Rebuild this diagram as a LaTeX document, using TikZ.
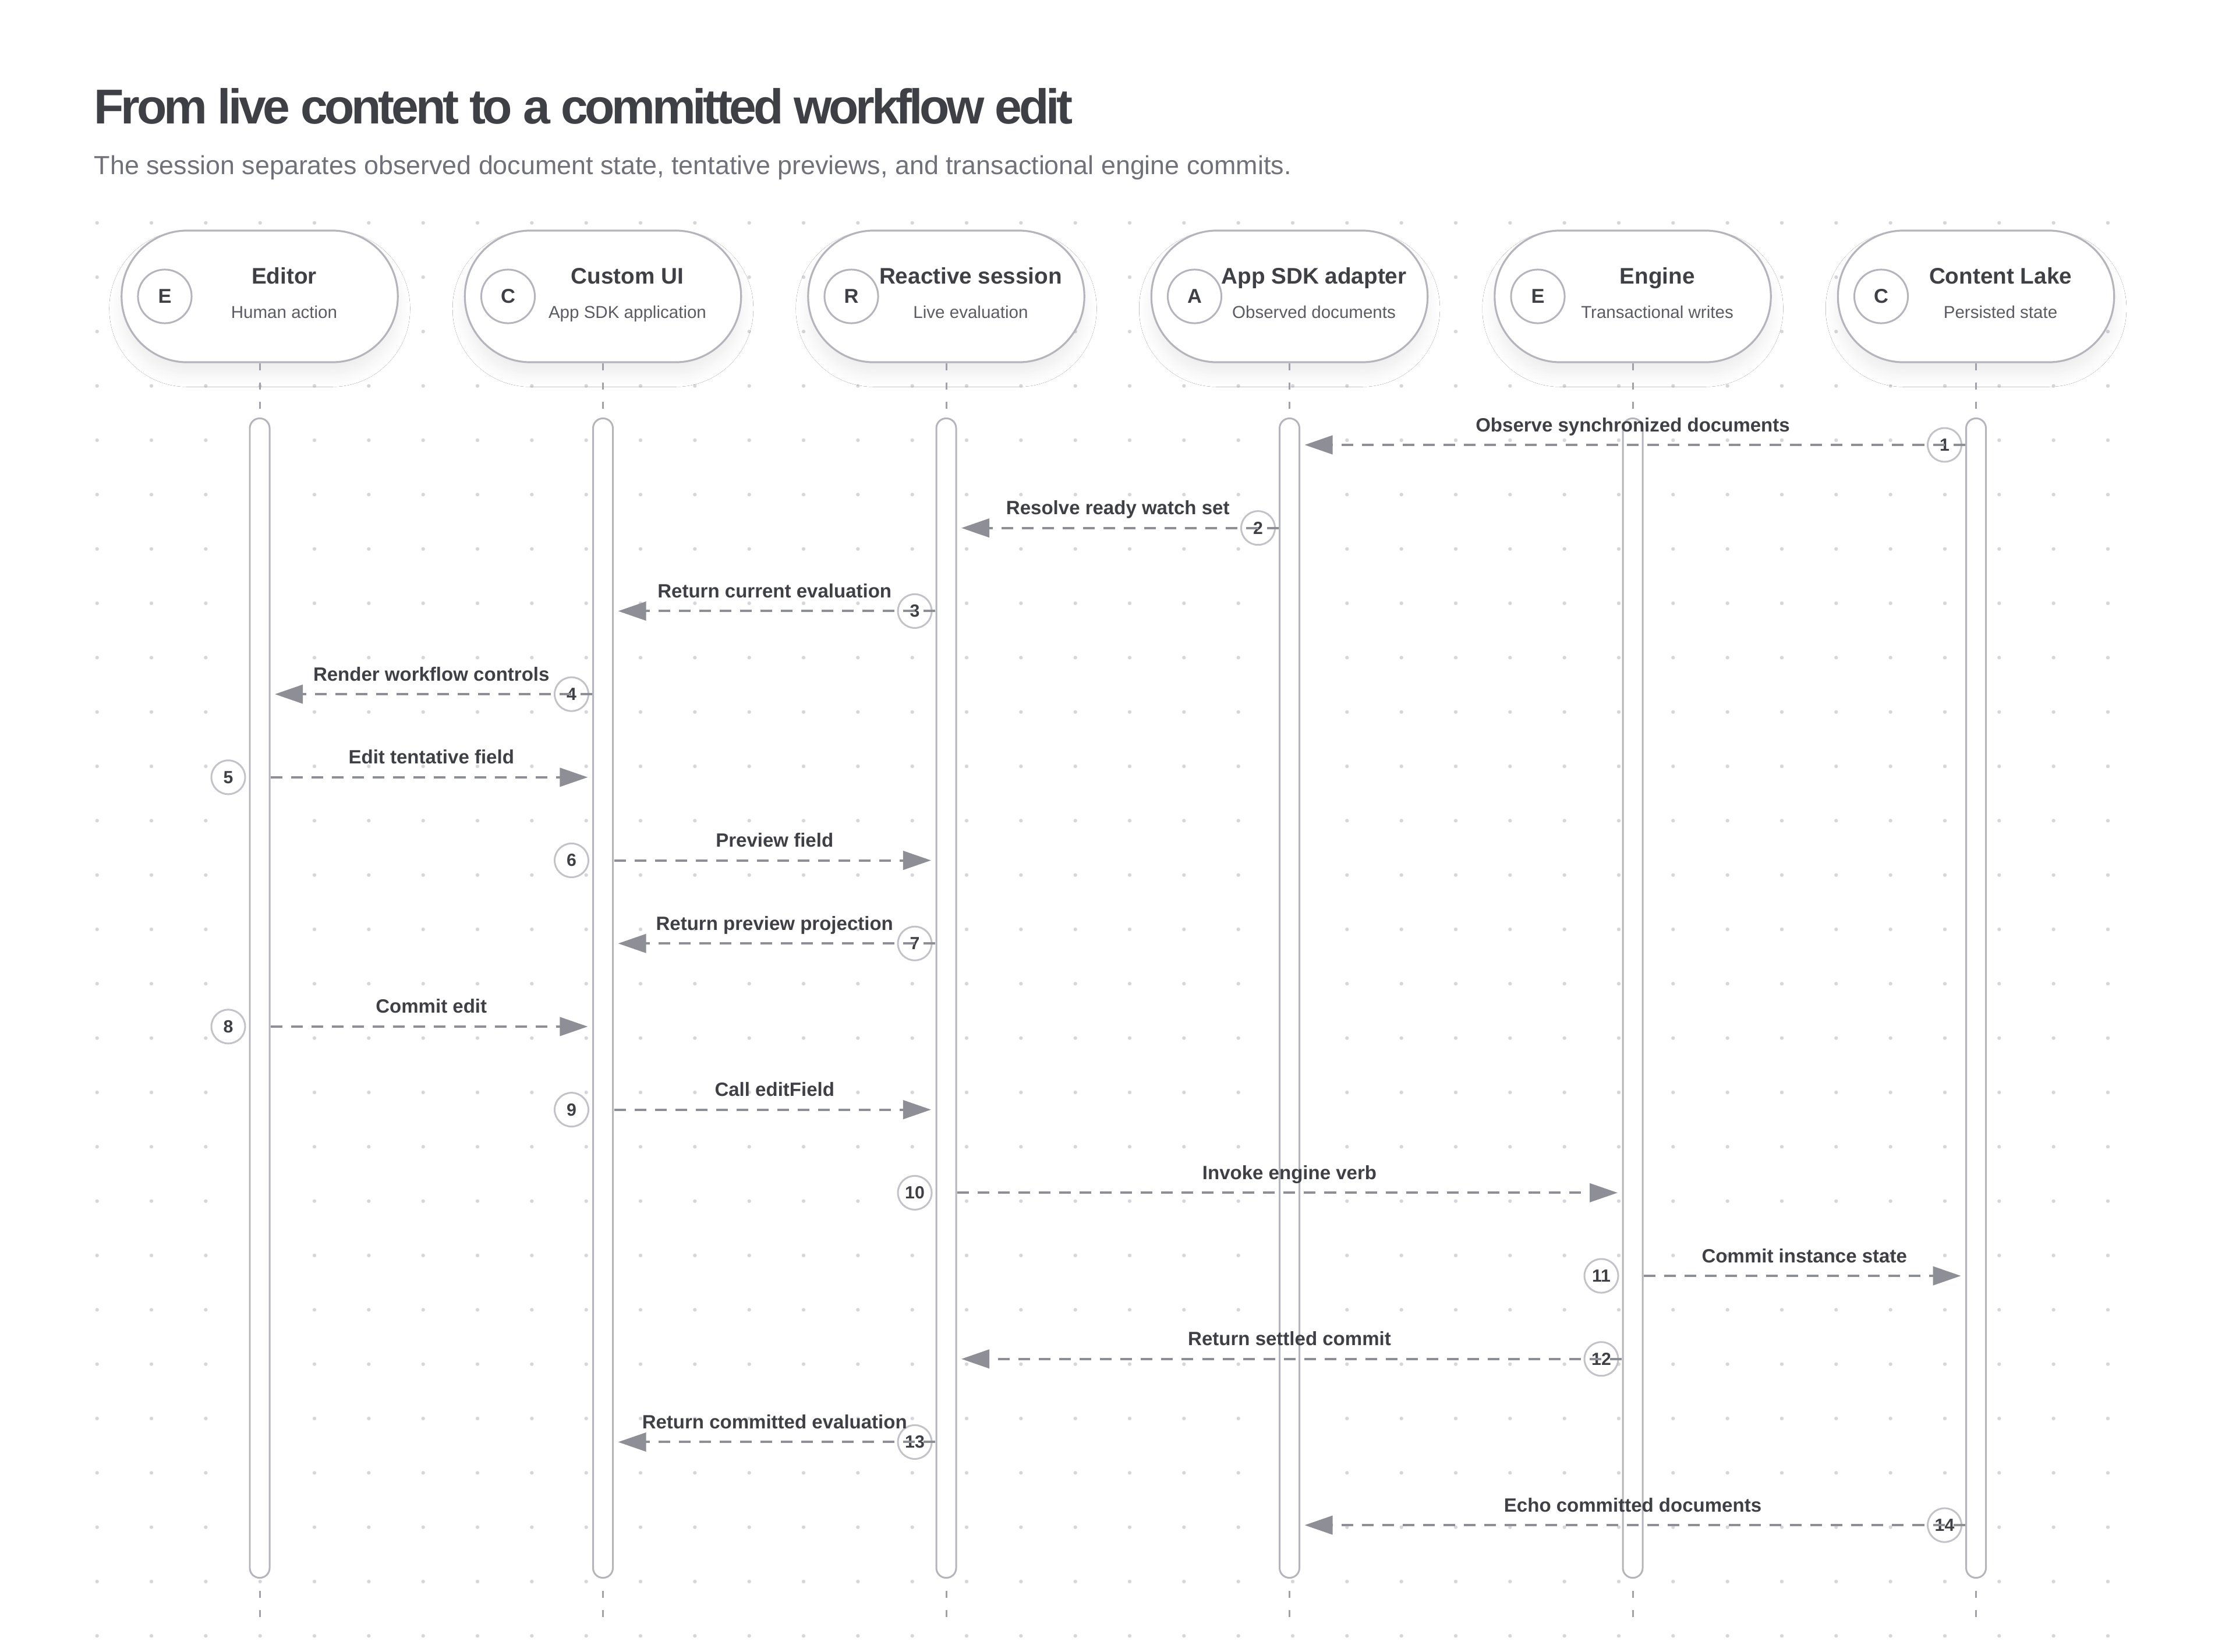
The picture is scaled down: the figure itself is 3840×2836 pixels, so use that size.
\documentclass[tikz,border=0pt]{standalone}
\usepackage{fontspec}
\setmainfont{Liberation Sans}
\newfontfamily\titlefont{Liberation Sans}[LetterSpace=-6.3]
\usetikzlibrary{arrows.meta,shadows.blur,calc}
\definecolor{ink}{HTML}{3F3F46}
\definecolor{subink}{HTML}{71717A}
\definecolor{mutedink}{HTML}{5B5B63}
\definecolor{dotc}{HTML}{D6D6DB}
\definecolor{edge}{HTML}{B4B4BC}
\definecolor{lifec}{HTML}{A1A1AA}
\definecolor{arrowc}{HTML}{8E8E96}
\definecolor{ringc}{HTML}{C2C2C8}
\tikzset{
  pbox/.style={draw=edge, line width=0.9pt, fill=white, rounded corners=32pt, minimum width=134.9pt, minimum height=64.3pt, inner sep=0pt, blur shadow={shadow xshift=0pt, shadow yshift=-6pt, shadow blur radius=6pt, shadow blur steps=14, shadow opacity=7}},
  badge/.style={circle, draw=edge, line width=0.85pt, fill=white, minimum size=26.2pt, inner sep=0pt, font=\fontsize{9.8pt}{11pt}\selectfont\bfseries, text=ink},
  ptitle/.style={anchor=base, inner sep=0pt, font=\fontsize{11pt}{13pt}\selectfont\bfseries, text=ink},
  psub/.style={anchor=base, inner sep=0pt, font=\fontsize{8.4pt}{10pt}\selectfont, text=mutedink},
  lifebar/.style={draw=edge, line width=0.85pt, fill=white, rounded corners=4.8pt, minimum width=9.67pt, minimum height=566.2pt, inner sep=0pt},
  lifedash/.style={draw=lifec, line width=0.85pt, dash pattern=on 3.41pt off 5.98pt},
  msg/.style={draw=arrowc, line width=1.14pt, dash pattern=on 5.69pt off 4.27pt, -{Triangle[length=13.66pt,width=9.1pt]}},
  num/.style={circle, draw=ringc, line width=0.85pt, fill=white, minimum size=16.5pt, inner sep=0pt, font=\fontsize{8.6pt}{10pt}\selectfont\bfseries, text=ink},
  mlabel/.style={anchor=base, inner sep=0pt, font=\fontsize{9.39pt}{11pt}\selectfont\bfseries, text=ink},
}
\begin{document}
\begin{tikzpicture}[x=0.01cm,y=-0.01cm]
\path[use as bounding box, fill=white] (0,0) rectangle (3840,2836);
% dot grid
\foreach \i in {0,...,37}{
  \foreach \j in {0,...,26}{
    \fill[dotc] ({166.7+93.33*\i},{382.7+93.33*\j}) circle[radius=0.9pt];
  }
}
% title
\node[anchor=base west, inner sep=0pt, font=\titlefont\fontsize{23.9pt}{27pt}\selectfont\bfseries, text=ink] (title) at (161,212) {From live content to a committed workflow edit};
\node[anchor=base west, inner sep=0pt, font=\fontsize{12.75pt}{15pt}\selectfont, text=subink] (subtitle) at (161,299) {The session separates observed document state, tentative previews, and transactional engine commits.};
% participants
\foreach \i/\x/\L/\T/\S in {1/446/E/Editor/Human action, 2/1035.5/C/Custom UI/App SDK application, 3/1625/R/Reactive session/Live evaluation, 4/2214.5/A/App SDK adapter/Observed documents, 5/2804/E/Engine/Transactional writes, 6/3393.5/C/Content Lake/Persisted state}{
  \node[pbox] (p\i) at (\x,509) {};
  \node[badge] (b\i) at (\x-163,509) {\L};
  \node[ptitle] (t\i) at (\x+42,487) {\T};
  \node[psub] (s\i) at (\x+42,546) {\S};
  \node[lifebar] (a\i) at (\x,1714) {};
  \coordinate (e\i) at (\x,2778);
  \draw[lifedash] (p\i.south) -- (a\i.north);
  \draw[lifedash, dash phase=3.41pt] (a\i.south) -- (e\i);
}
% messages
\foreach \k/\s/\t/\txt in {1/6/4/Observe synchronized documents, 2/4/3/Resolve ready watch set, 3/3/2/Return current evaluation, 4/2/1/Render workflow controls, 5/1/2/Edit tentative field, 6/2/3/Preview field, 7/3/2/Return preview projection, 8/1/2/Commit edit, 9/2/3/Call editField, 10/3/5/Invoke engine verb, 11/5/6/Commit instance state, 12/5/3/Return settled commit, 13/3/2/Return committed evaluation, 14/6/4/Echo committed documents}{
  \pgfmathsetmacro{\xs}{{446,1035.5,1625,2214.5,2804,3393.5}[\s-1]}
  \pgfmathsetmacro{\xt}{{446,1035.5,1625,2214.5,2804,3393.5}[\t-1]}
  \pgfmathsetmacro{\yy}{764+142.7*(\k-1)}
  \pgfmathsetmacro{\dir}{sign(\xt-\xs)}
  \coordinate (ma\k) at ({\xs+19*\dir},\yy);
  \coordinate (mb\k) at ({\xt-26*\dir},\yy);
  \node[num] (n\k) at ({\xs-54},\yy) {\k};
  \draw[msg] (ma\k) -- (mb\k);
  \node[mlabel] (l\k) at ({(\xs+\xt)/2},{\yy-23}) {\txt};
}
\end{tikzpicture}
\end{document}
